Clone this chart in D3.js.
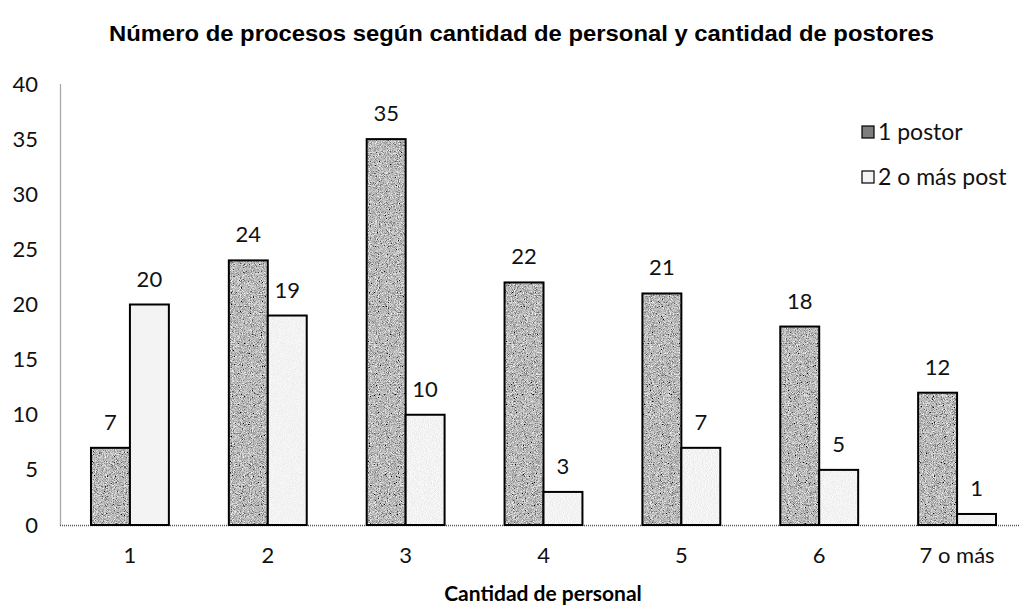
<!doctype html>
<html>
<head>
<meta charset="utf-8" />
<title>Número de procesos</title>
<script src="https://cdn.jsdelivr.net/npm/d3@7"></script>
<style>
  body { margin: 0; background: #fff; }
  svg { display: block; }
</style>
</head>
<body>
<svg id="chart" width="1019" height="614"></svg>
<script>
// data
var categories = ["1", "2", "3", "4", "5", "6", "7 o más"];
var seriesNames = ["1 postor", "2 o más post"];
var unPostor = [7, 24, 35, 22, 21, 18, 12];
var dosOMas = [20, 19, 10, 3, 7, 5, 1];
var yTicks = [0, 5, 10, 15, 20, 25, 30, 35, 40];

var rows = categories.map(function(c, i) {
    return { cat: c, values: [unPostor[i], dosOMas[i]] };
});

var svg = d3.select("#chart");
var numFont = "Lato, 'Open Sans', sans-serif";

// grainy textures like the scanned original
var defs = svg.append("defs");
function grain(id, lo, hi, freq) {
    var f = defs.append("filter").attr("id", id)
        .attr("x", 0).attr("y", 0).attr("width", "100%").attr("height", "100%");
    f.append("feTurbulence").attr("type", "fractalNoise")
        .attr("baseFrequency", freq).attr("numOctaves", 2).attr("seed", 7).attr("result", "n");
    f.append("feColorMatrix").attr("in", "n").attr("type", "matrix")
        .attr("values", "0.33 0.33 0.33 0 0  0.33 0.33 0.33 0 0  0.33 0.33 0.33 0 0  0 0 0 0 1")
        .attr("result", "g");
    var ct = f.append("feComponentTransfer").attr("in", "g").attr("result", "c");
    ["feFuncR", "feFuncG", "feFuncB"].forEach(function(fn) {
        ct.append(fn).attr("type", "linear")
          .attr("slope", (hi - lo) * 3).attr("intercept", (lo + hi) / 2 - (hi - lo) * 1.5);
    });
    f.append("feComposite").attr("in", "c").attr("in2", "SourceGraphic").attr("operator", "in");
}
grain("grainDark", 0.05, 0.95, 1.1);
grain("grainLight", 0.78, 1.02, 1.0);

var y = d3.scaleLinear().domain([0, 40]).range([525, 84]);
var x0 = d3.scaleBand().domain(categories).range([61, 1026])
    .paddingInner(0.435).paddingOuter(0.2175);
var x1 = d3.scaleBand().domain([0, 1]).range([0, x0.bandwidth()]);

// title
svg.append("text")
    .attr("x", 109).attr("y", 41)
    .attr("textLength", 825).attr("lengthAdjust", "spacingAndGlyphs")
    .style("font-family", "'Liberation Sans', Arial, sans-serif")
    .style("font-weight", "bold").style("font-size", "22px")
    .text("Número de procesos según cantidad de personal y cantidad de postores");

// y axis (labels only, dotted line)
var yAxis = d3.axisLeft(y).tickValues(yTicks).tickSize(0).tickPadding(22);
var gy = svg.append("g").attr("transform", "translate(60,0)").call(yAxis);
gy.select(".domain").attr("stroke", "#555").attr("stroke-dasharray", "1,1").attr("stroke-width", 1.3);
gy.selectAll("text").style("font-family", numFont).style("font-size", "22px").attr("fill", "#111");

// x axis
var xAxis = d3.axisBottom(x0).tickSize(0).tickPadding(22);
var gx = svg.append("g").attr("transform", "translate(0,525)").call(xAxis);
gx.select(".domain").attr("d", "M60,0.5H1019")
    .attr("stroke", "#555").attr("stroke-dasharray", "1,1").attr("stroke-width", 1.3);
gx.selectAll("text").style("font-family", numFont).style("font-size", "22px").attr("fill", "#111");

// bars
var groups = svg.append("g").selectAll("g").data(rows).enter()
    .append("g").attr("transform", d => "translate(" + x0(d.cat) + ",0)");

var bars = groups.selectAll("g.bar").data(d => d.values.map((v, k) => ({ k: k, v: v })))
    .enter().append("g").attr("class", "bar");

bars.append("rect")
    .attr("x", d => x1(d.k)).attr("width", x1.bandwidth())
    .attr("y", d => y(d.v)).attr("height", d => y(0) - y(d.v))
    .attr("fill", d => d.k === 0 ? "#7e7e7e" : "#ececec")
    .attr("filter", d => d.k === 0 ? "url(#grainDark)" : "url(#grainLight)");

bars.append("rect")
    .attr("x", d => x1(d.k)).attr("width", x1.bandwidth())
    .attr("y", d => y(d.v)).attr("height", d => y(0) - y(d.v))
    .attr("fill", "none").attr("stroke", "#000").attr("stroke-width", 2);

bars.append("text")
    .attr("x", d => x1(d.k) + x1.bandwidth() / 2)
    .attr("y", d => y(d.v) - 18)
    .attr("text-anchor", "middle")
    .style("font-family", numFont).style("font-size", "22px").attr("fill", "#111")
    .text(d => d.v);

// axis title
svg.append("text")
    .attr("x", 543).attr("y", 601)
    .attr("text-anchor", "middle")
    .style("font-family", numFont).style("font-weight", "bold").style("font-size", "21px")
    .text("Cantidad de personal");

// legend
var legend = svg.append("g").selectAll("g").data(seriesNames).enter()
    .append("g").attr("transform", (d, i) => "translate(862," + (132 + i * 45) + ")");
legend.append("rect")
    .attr("x", 0).attr("y", -6).attr("width", 12).attr("height", 12)
    .attr("fill", (d, i) => i === 0 ? "#7e7e7e" : "#f4f4f4")
    .attr("stroke", "#000").attr("stroke-width", 1.2);
legend.append("text")
    .attr("x", 16).attr("y", 8)
    .style("font-family", numFont).style("font-size", "23px").attr("fill", "#111")
    .text(d => d);
</script>
</body>
</html>
